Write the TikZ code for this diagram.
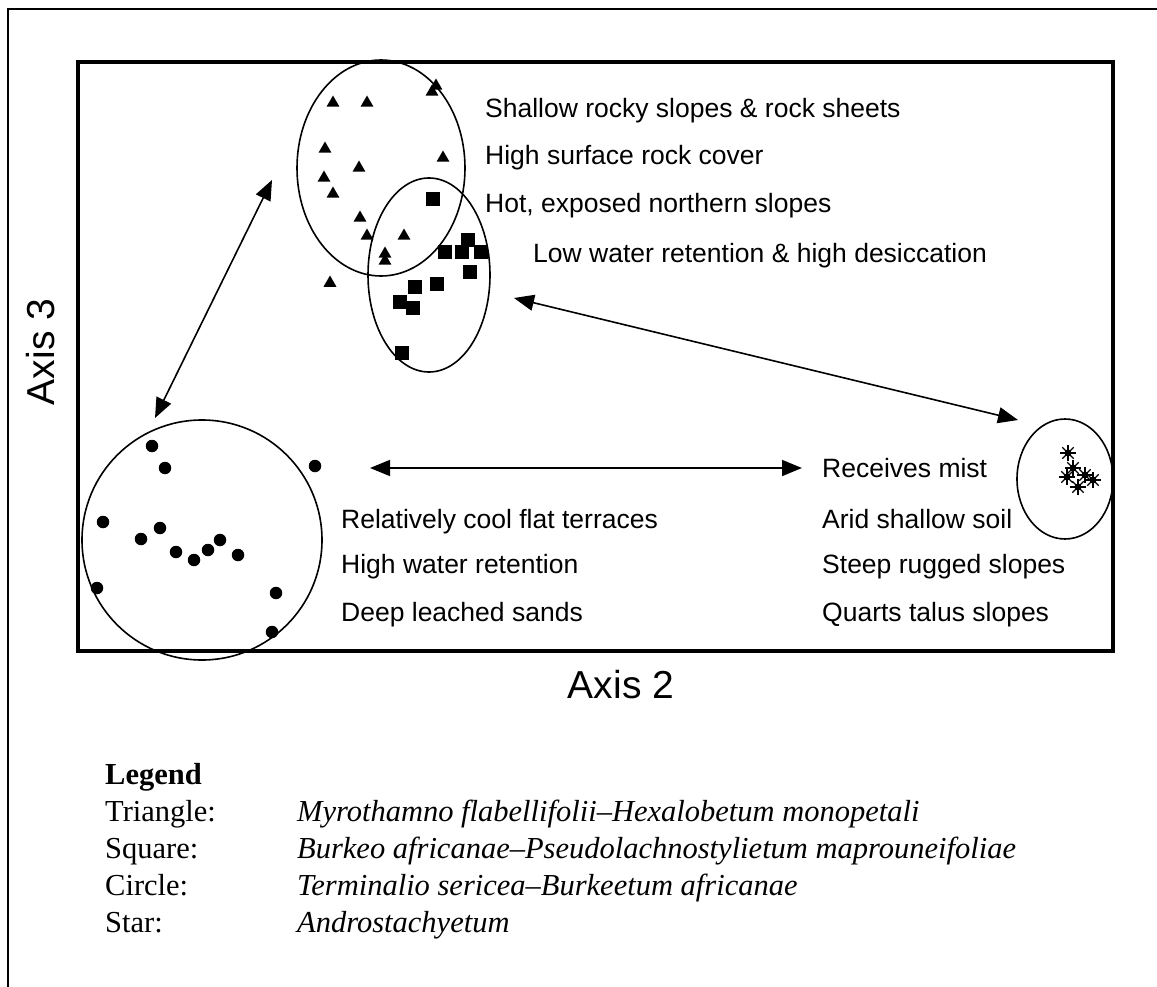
\documentclass[tikz,border=0pt]{standalone}
\usepackage{fontspec}
\setmainfont{Liberation Serif}
\newfontfamily\arial{Liberation Sans}
\usetikzlibrary{shapes.geometric,arrows.meta}
\begin{document}
\begin{tikzpicture}[x=1pt,y=-1pt,
  lab/.style={anchor=base west,inner sep=0pt,font=\arial\fontsize{26.5}{30}\selectfont},
  axlab/.style={inner sep=0pt,font=\arial\fontsize{39}{44}\selectfont},
  leg/.style={anchor=base west,inner sep=0pt,font=\fontsize{30.5}{35}\selectfont},
  grp/.style={draw,ellipse,line width=1.6pt,inner sep=0pt},
  tri/.style={regular polygon,regular polygon sides=3,fill=black,inner sep=0pt,minimum size=15pt},
  sq/.style={rectangle,fill=black,inner sep=0pt,minimum size=14pt},
  dotm/.style={circle,fill=black,inner sep=0pt,minimum size=12.5pt},
  starm/.style={circle,inner sep=0pt,minimum size=18pt,path picture={
      \foreach \a in {0,45,...,315}
        \draw[line width=1.3pt] (path picture bounding box.center) -- ++(\a:8pt);
      \fill (path picture bounding box.center) circle (3.5pt);}},
  link/.style={line width=1.6pt,{Triangle[length=20pt,width=16pt]}-{Triangle[length=20pt,width=16pt]}}
]
\useasboundingbox (0,0) rectangle (1157,987);
% outer frame
\draw[line width=2pt] (1170,9) -- (8,9) -- (8,1000);
% plot frame
\draw[line width=3.5pt] (78,62) rectangle (1113,651);

% group outlines
\node[grp,minimum width=168pt,minimum height=216pt] (etri) at (381,168) {};
\node[grp,minimum width=122pt,minimum height=194pt] (esq) at (429,275) {};
\node[grp,minimum width=240pt,minimum height=240pt] (ecir) at (202,540) {};
\node[grp,minimum width=96pt,minimum height=120pt] (estar) at (1065,479) {};

% triangles
\node[tri] (t1) at (333,103) {};
\node[tri] (t2) at (367,103) {};
\node[tri] (t3) at (432,92) {};
\node[tri] (t4) at (436,86) {};
\node[tri] (t5) at (325,149) {};
\node[tri] (t6) at (443,158) {};
\node[tri] (t7) at (359,168) {};
\node[tri] (t8) at (324,178) {};
\node[tri] (t9) at (333,194) {};
\node[tri] (t10) at (360,218) {};
\node[tri] (t11) at (367,236) {};
\node[tri] (t12) at (404,236) {};
\node[tri] (t13) at (385,254) {};
\node[tri] (t14) at (385,261) {};
\node[tri] (t15) at (330,283) {};

% squares
\node[sq] (s1) at (433,199) {};
\node[sq] (s2) at (445,252) {};
\node[sq] (s3) at (468,240) {};
\node[sq] (s4) at (462,252) {};
\node[sq] (s5) at (481,252) {};
\node[sq] (s6) at (470,272) {};
\node[sq] (s7) at (437,284) {};
\node[sq] (s8) at (415,287) {};
\node[sq] (s9) at (400,302) {};
\node[sq] (s10) at (413,308) {};
\node[sq] (s11) at (402,353) {};

% circles
\node[dotm] (c1) at (152,446) {};
\node[dotm] (c2) at (165,468) {};
\node[dotm] (c3) at (315,466) {};
\node[dotm] (c4) at (103,522) {};
\node[dotm] (c5) at (160,528) {};
\node[dotm] (c6) at (141,539) {};
\node[dotm] (c7) at (176,552) {};
\node[dotm] (c8) at (194,560) {};
\node[dotm] (c9) at (208,550) {};
\node[dotm] (c10) at (220,540) {};
\node[dotm] (c11) at (238,555) {};
\node[dotm] (c12) at (97,588) {};
\node[dotm] (c13) at (276,593) {};
\node[dotm] (c14) at (272,632) {};

% stars
\node[starm] (k1) at (1068,453) {};
\node[starm] (k2) at (1073,468) {};
\node[starm] (k3) at (1067,477) {};
\node[starm] (k4) at (1085,475) {};
\node[starm] (k5) at (1093,480) {};
\node[starm] (k6) at (1078,487) {};

% arrows
\coordinate (a1) at (155,418);
\coordinate (a2) at (272,180);
\coordinate (b1) at (514,298);
\coordinate (b2) at (1018,420);
\coordinate (h1) at (370,468);
\coordinate (h2) at (802,468);
\draw[link] (a1) -- (a2);
\draw[link] (b1) -- (b2);
\draw[link] (h1) -- (h2);

% labels
\node[lab] (l1) at (485,118) {Shallow rocky slopes \& rock sheets};
\node[lab] (l2) at (485,165) {High surface rock cover};
\node[lab] (l3) at (485,213) {Hot, exposed northern slopes};
\node[lab] (l4) at (533,262) {Low water retention \& high desiccation};
\node[lab] (l5) at (341,528) {Relatively cool flat terraces};
\node[lab] (l6) at (341,573) {High water retention};
\node[lab] (l7) at (341,621) {Deep leached sands};
\node[lab] (r1) at (822,477) {Receives mist};
\node[lab] (r2) at (822,528) {Arid shallow soil};
\node[lab] (r3) at (822,573) {Steep rugged slopes};
\node[lab] (r4) at (822,621) {Quarts talus slopes};

\node[axlab] (ax2) at (621,685) {Axis 2};
\node[axlab,rotate=90] (ax3) at (41,352) {Axis 3};

% legend
\node[leg] (lg) at (105,784) {\textbf{Legend}};
\node[leg] (lg1) at (105,821) {Triangle:};
\node[leg] (lg2) at (105,858) {Square:};
\node[leg] (lg3) at (105,895) {Circle:};
\node[leg] (lg4) at (105,932) {Star:};
\node[leg] (ln1) at (297,821) {\textit{Myrothamno flabellifolii--Hexalobetum monopetali}};
\node[leg] (ln2) at (297,858) {\textit{Burkeo africanae--Pseudolachnostylietum maprouneifoliae}};
\node[leg] (ln3) at (297,895) {\textit{Terminalio sericea--Burkeetum africanae}};
\node[leg] (ln4) at (297,932) {\textit{Androstachyetum}};
\end{tikzpicture}
\end{document}
